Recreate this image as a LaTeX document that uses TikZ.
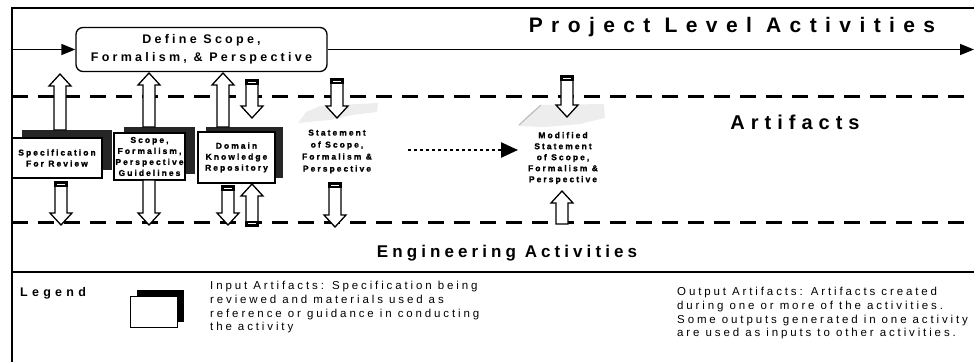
\documentclass[tikz,border=0pt]{standalone}
\usepackage{fontspec}
\setmainfont{Liberation Sans}
\newfontfamily\fTitle[LetterSpace=40]{Liberation Sans}
\newfontfamily\fArt[LetterSpace=30]{Liberation Sans}
\newfontfamily\fEng[LetterSpace=24]{Liberation Sans}
\newfontfamily\fMid[LetterSpace=26]{Liberation Sans}
\newfontfamily\fSmall[LetterSpace=24,FakeBold=1.2]{Liberation Sans}
\newfontfamily\fLeg[LetterSpace=25]{Liberation Sans}
\newfontfamily\fLegend[LetterSpace=34]{Liberation Sans}
\usetikzlibrary{arrows.meta}
\newcommand\barrowup[3]{%
  \draw[blockarrow] (#1-6,#2) -- (#1-6,#3+12) -- (#1-11,#3+12) -- (#1,#3) -- (#1+11,#3+12) -- (#1+6,#3+12) -- (#1+6,#2) -- cycle;}
\newcommand\barrowdown[3]{%
  \draw[blockarrow] (#1-6,#2) -- (#1-6,#3-12) -- (#1-11,#3-12) -- (#1,#3) -- (#1+11,#3-12) -- (#1+6,#3-12) -- (#1+6,#2) -- cycle;}
\newcommand\captop[2]{\fill[black] (#1-6.6,#2-1) rectangle (#1+6.6,#2+5); \draw[white,line width=0.8pt] (#1-4,#2+2.5) -- (#1+4,#2+2.5);}
\newcommand\capbot[2]{\fill[black] (#1-6.6,#2+1) rectangle (#1+6.6,#2-5); \draw[white,line width=0.8pt] (#1-4,#2-2.5) -- (#1+4,#2-2.5);}
\begin{document}
\begin{tikzpicture}[x=1pt,y=-1pt,
  frame/.style={line width=2.6pt},
  dashline/.style={line width=3pt, dash pattern=on 16pt off 10pt},
  blockarrow/.style={draw=black, fill=white, line width=1.3pt, line join=miter},
  shadowbox/.style={fill=black!85},
  inbox/.style={draw=black, fill=white, line width=1.3pt, inner sep=0pt, align=center,
    font=\fSmall\bfseries\fontsize{8.5}{11}\selectfont},
  bigtitle/.style={font=\fTitle\bfseries\fontsize{21}{21}\selectfont},
  midtitle/.style={font=\fArt\bfseries\fontsize{20}{20}\selectfont},
  engtitle/.style={font=\fEng\bfseries\fontsize{17}{17}\selectfont},
  arttext/.style={align=center, inner sep=0pt, font=\fSmall\bfseries\fontsize{8.5}{12}\selectfont},
  legtext/.style={anchor=north west, align=left, inner sep=0pt, font=\fLeg\fontsize{11.5}{13.8}\selectfont},
  stipple/.style={fill=gray!14, draw=none}]
\useasboundingbox (0,0) rectangle (974,362);
% frame
\coordinate (tl) at (12,8);
\coordinate (tr) at (974,8);
\coordinate (bl) at (12,362);
\draw[frame] (tr) -- (tl) -- (bl);
\draw[frame] (12,272) -- (974,272);
% dashed separators
\draw[dashline] (12,96) -- (974,96);
\draw[dashline] (12,222) -- (974,222);
% project level activity
\node[draw, rounded corners=7pt, line width=1.3pt, minimum width=251pt, minimum height=44pt,
  align=center, fill=white, font=\fMid\bfseries\fontsize{12.5}{18}\selectfont] (define) at (201.5,49.5)
  {Define Scope,\\Formalism, \& Perspective};
\coordinate (pl) at (12,49.5);
\coordinate (pr) at (974,49.5);
\draw[line width=1.5pt, -{Triangle[length=14pt,width=11pt]}] (pl) -- (define.west);
\draw[line width=1.5pt, -{Triangle[length=14pt,width=11pt]}] (define.east) -- (pr);
\node[bigtitle] (plabel) at (732,27) {Project Level Activities};
\node[midtitle] (artifacts) at (795,122) {Artifacts};
\node[engtitle] (eng) at (507,253) {Engineering Activities};
% output artifact stipples
\fill[stipple] (298,123) -- (306,112) -- (320,106) -- (378,103) -- (377,112) -- (352,115) -- (330,120) -- cycle;
\fill[stipple] (518,126) -- (530,113) -- (542,105) -- (604,104) -- (605,118) -- (580,124) -- (545,127) -- cycle;
\draw[gray!55, line width=1pt] (519,125) -- (541,105);
% input artifacts
\fill[shadowbox] (22,130) rectangle (112,170);
\node[inbox, minimum width=90pt, minimum height=40pt] (spec) at (57,158) {Specification\\For Review};
\fill[shadowbox] (124,127) rectangle (195,174);
\node[inbox, minimum width=71pt, minimum height=47pt] (scope) at (149.5,156.5) {Scope,\\Formalism,\\Perspective\\Guidelines};
\fill[shadowbox] (206,127) rectangle (283,178);
\node[inbox, minimum width=77pt, minimum height=51pt] (domain) at (236.5,157.5) {Domain\\Knowledge\\Repository};
% output artifacts
\node[arttext] (stmt) at (337,151.5) {Statement\\of Scope,\\Formalism \&\\Perspective};
\node[arttext, font=\fSmall\bfseries\fontsize{8.5}{11}\selectfont] (mod) at (563,158) {Modified\\Statement\\of Scope,\\Formalism \&\\Perspective};
\coordinate (dotS) at (408,150);
\coordinate (dotE) at (518,150);
\draw[line width=2.5pt, dash pattern=on 2.5pt off 3.5pt, -{Triangle[length=17pt,width=15pt]}] (dotS) -- (dotE);
% block arrows: artifacts -> project level
\barrowup{60}{130}{74}
\barrowup{149}{127}{73}
\barrowup{223}{127}{73}
\barrowdown{252}{80}{118}\captop{252}{80}
\barrowdown{337}{79}{118}\captop{337}{79}
\barrowdown{567}{76}{117}\captop{567}{76}
% block arrows: artifacts <-> engineering
\barrowdown{61}{182}{225}\captop{61}{182}
\barrowdown{149}{180}{225}
\barrowdown{228}{186}{225}\captop{228}{186}
\barrowup{252}{226}{184}\capbot{252}{226}
\barrowdown{335}{183}{227}\captop{335}{183}
\barrowup{562}{224}{191}
% legend
\node[anchor=west, inner sep=0pt, font=\fLegend\bfseries\fontsize{12.5}{14}\selectfont] (legend) at (20,293) {Legend};
\fill[black] (137,290) rectangle (184,322);
\node[draw, fill=white, line width=1pt, minimum width=47pt, minimum height=31pt, inner sep=0pt] (legbox) at (153.5,311.5) {};
\node[legtext] (intext) at (210,281) {Input Artifacts: Specification being\\reviewed and materials used as\\reference or guidance in conducting\\the activity};
\node[legtext] (outtext) at (677,287) {Output Artifacts: Artifacts created\\during one or more of the activities.\\Some outputs generated in one activity\\are used as inputs to other activities.};
\end{tikzpicture}
\end{document}
